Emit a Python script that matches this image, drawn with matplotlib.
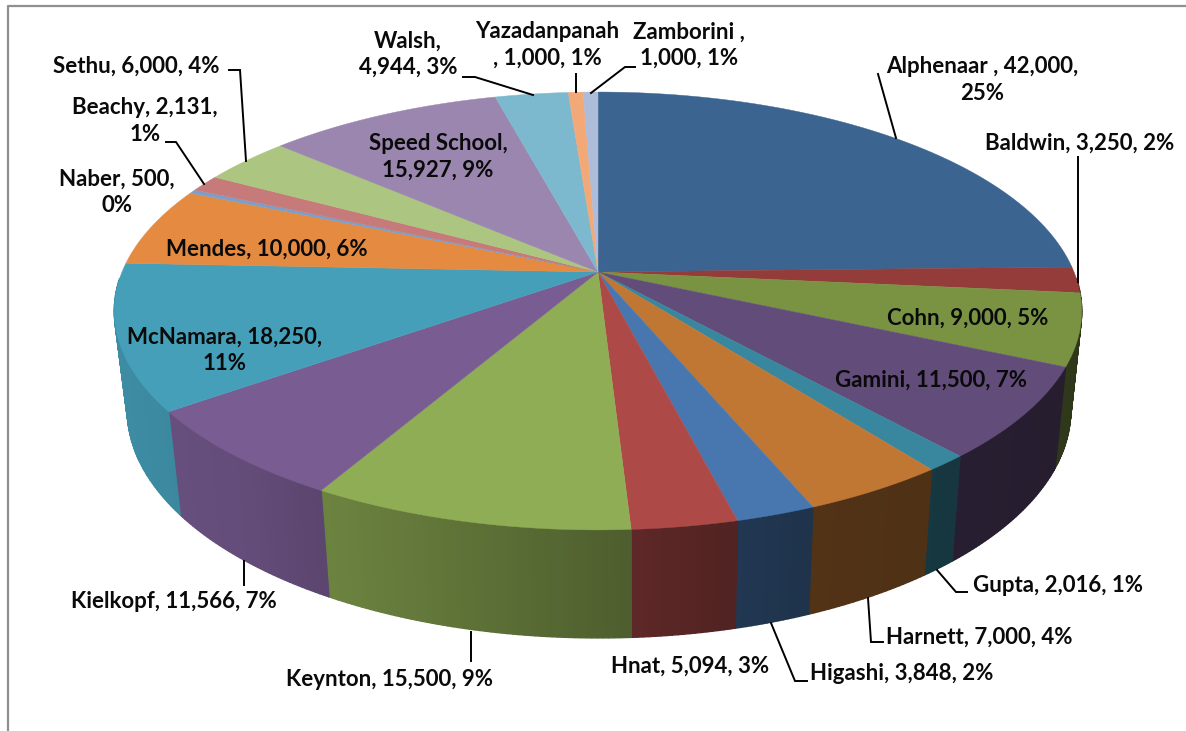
import numpy as np
import matplotlib
matplotlib.use("Agg")
import matplotlib.pyplot as plt
from matplotlib.patches import Polygon

# ---- data ----
names = ["Alphenaar ", "Baldwin", "Cohn", "Gamini", "Gupta", "Harnett", "Higashi", "Hnat",
         "Keynton", "Kielkopf", "McNamara", "Mendes", "Naber", "Beachy", "Sethu",
         "Speed School", "Walsh", "Yazadanpanah", "Zamborini "]
values = [42000, 3250, 9000, 11500, 2016, 7000, 3848, 5094,
          15500, 11566, 18250, 10000, 500, 2131, 6000,
          15927, 4944, 1000, 1000]
percents = [25, 2, 5, 7, 1, 4, 2, 3, 9, 7, 11, 6, 0, 1, 4, 9, 3, 1, 1]
colors = ["#3b6491", "#943c3a", "#7a9343", "#624c7a", "#38879e", "#c07734", "#4877b0", "#ad4a48",
          "#8fad54", "#785c92", "#459fb9", "#e48a41", "#7c9fca", "#c67a79", "#acc581",
          "#9a86af", "#7cb9cf", "#f3a877", "#adbcd9"]
# where each label wraps: "" none, "n" after name, "v" after value, "nb" name then newline before comma
wraps = ["v", "", "", "", "", "", "", "", "", "", "v", "", "v", "v", "", "n", "n", "nb", "n"]

# ---- layout ----
label_pos = [(982, 80), (1080, 143), (968, 318), (931, 380), (1058, 585), (979, 637), (902, 673), (690, 666),
             (390, 680), (174, 601), (225, 350), (267, 249), (117, 192), (145, 121), (136, 66),
             (438, 157), (408, 54), (547, 45), (689, 45)]
leaders = [[(878, 74), (896, 138)],
           [(1078, 157), (1078, 282)],
           [(937, 570), (956, 592), (967, 592)],
           [(868, 598), (871, 642), (883, 642)],
           [(771, 623), (795, 681), (807, 681)],
           [(244, 561), (244, 585)],
           [(471, 632), (471, 661)],
           [(229, 70), (240, 70), (246, 161)],
           [(166, 142), (176, 142), (204, 184)],
           [(463, 77), (475, 77), (533, 95)],
           [(576, 74), (576, 92)],
           [(635, 67), (625, 67), (591, 93)]]
AX, AY = 598, 272          # pie apex on screen
R, B, K = 476, 212, 0.178  # projective circle -> ellipse
TOP = (599, 311, 484, 219)
BOT = (600, 410, 472, 228)
shade_x = [120, 240, 320, 620, 730, 800, 925, 1080]
shade_v = [0.88, 0.83, 0.76, 0.55, 0.47, 0.43, 0.41, 0.38]

plt.rcParams['font.family'] = ['Lato', 'DejaVu Sans']
fig = plt.figure(figsize=(11.86, 7.31), dpi=100, facecolor="white")
ax = fig.add_axes([0, 0, 1, 1])
ax.set_xlim(0, 1186)
ax.set_ylim(731, 0)
ax.axis("off")


def top_pts(theta):
    c, s = np.sin(theta), -np.cos(theta)
    d = 1 - K * s
    return AX + R * c / d, AY + B * s / d


def to_bottom(x, y):
    nx, ny = (x - TOP[0]) / TOP[2], (y - TOP[1]) / TOP[3]
    return BOT[0] + BOT[2] * nx, BOT[1] + BOT[3] * ny


def hex_scale(col, f):
    rgb = np.array(matplotlib.colors.to_rgb(col))
    return tuple(np.clip(rgb * f, 0, 1))


edges = np.concatenate([[0], np.cumsum(values)]) / np.sum(values) * 2 * np.pi

# frame
ax.plot([7.5, 7.5, 1186], [731, 5.5, 5.5], color="#8f8f8f", lw=1.6, zorder=1, solid_capstyle="butt")

# side walls
for i, col in enumerate(colors):
    n = max(3, int((edges[i + 1] - edges[i]) / 0.01))
    th = np.linspace(edges[i], edges[i + 1], n + 1)
    xt, yt = top_pts(th)
    xb, yb = to_bottom(xt, yt)
    for j in range(n):
        if (yt[j] - TOP[1]) / TOP[3] < -0.15:
            continue
        fc = hex_scale(col, np.interp((xt[j] + xt[j + 1]) / 2, shade_x, shade_v))
        ax.add_patch(Polygon([(xt[j], yt[j]), (xt[j + 1], yt[j + 1]), (xb[j + 1], yb[j + 1]), (xb[j], yb[j])],
                             closed=True, fc=fc, ec=fc, lw=1.0, zorder=2))

# top face
for i, col in enumerate(colors):
    n = max(3, int((edges[i + 1] - edges[i]) / 0.005))
    th = np.linspace(edges[i], edges[i + 1], n + 1)
    xt, yt = top_pts(th)
    pts = np.column_stack([np.r_[AX, xt], np.r_[AY, yt]])
    ax.add_patch(Polygon(pts, closed=True, fc=col, ec=col, lw=0.3, zorder=3))

# leader lines
for line in leaders:
    xs, ys = zip(*line)
    ax.plot(xs, ys, color="#000000", lw=1.4, zorder=4, solid_joinstyle="miter")

# labels
for name, v, p, w, (x, y) in zip(names, values, percents, wraps, label_pos):
    if w == "v":
        s = f"{name}, {v:,},\n{p}%"
    elif w == "n":
        s = f"{name},\n{v:,}, {p}%"
    elif w == "nb":
        s = f"{name}\n, {v:,}, {p}%"
    else:
        s = f"{name}, {v:,}, {p}%"
    ax.text(x, y, s, ha="center", va="center", fontsize=16, fontweight="bold", color="#0a0a0a",
            linespacing=1.3, zorder=5)

fig.savefig("out.png", dpi=100, facecolor="white")
